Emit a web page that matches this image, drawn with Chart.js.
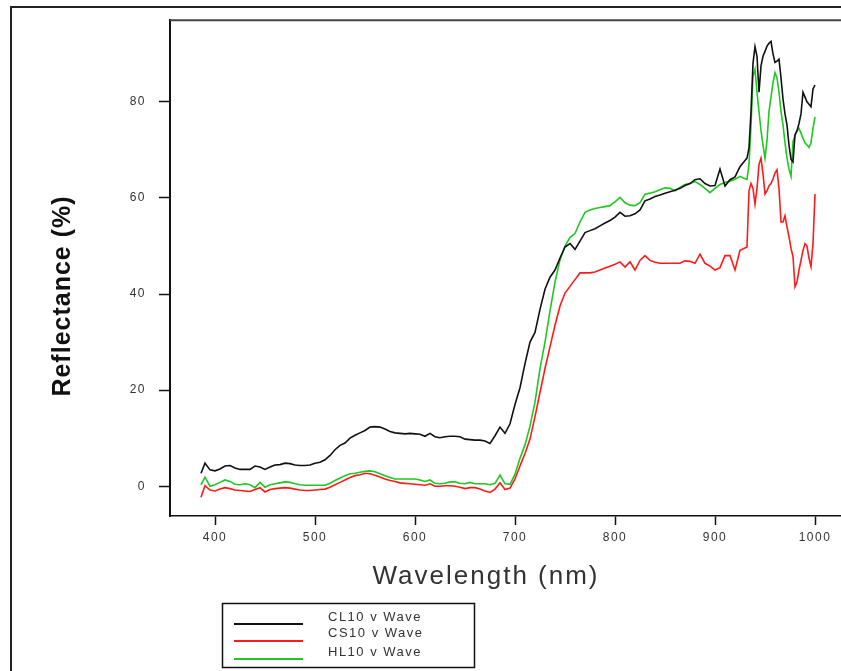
<!DOCTYPE html>
<html>
<head>
<meta charset="utf-8">
<script src="https://cdn.jsdelivr.net/npm/chart.js@4.4.1/dist/chart.umd.min.js"></script>
<style>
    html, body { margin: 0; padding: 0; background: #fff; overflow: hidden; }
    #wrap { width: 841px; height: 671px; overflow: hidden; position: relative; }
    canvas { display: block; }
</style>
</head>
<body>
<div id="wrap"><canvas id="reflChart" width="900" height="671"></canvas></div>
<script>
// Длины волн (нм), общие для всех трёх кривых
const wavelengths = [
    386, 390, 395, 400, 405, 410, 415, 420, 425, 430, 435, 440, 445, 450, 455, 460, 465, 470, 475, 480, 485, 490, 495, 500,
    505, 510, 515, 520, 525, 530, 535, 540, 545, 550, 555, 560, 565, 570, 575, 580, 585, 590, 595, 600,
    605, 610, 615, 620, 625, 630, 635, 640, 645, 650, 655, 660, 665, 670, 675, 680, 685, 690, 695,
    700, 705, 710, 715, 720, 725, 730, 735, 740, 745, 750, 755, 760, 765, 770, 775, 780, 785, 790, 795, 800,
    805, 810, 815, 820, 825, 830, 835, 840, 845, 850, 855, 860, 865, 870, 875, 880, 885, 890, 895, 900, 905, 910, 915, 920, 925, 930,
    932, 934, 936, 938, 940, 942, 944, 946, 948, 950, 952, 954, 956, 958, 960, 962, 964, 966, 968, 970, 972, 974, 976, 978, 980,
    982, 984, 986, 988, 990, 992, 994, 996, 998, 1000
];

const cl10 = [
    2.7, 4.8, 3.4, 3.2, 3.6, 4.2, 4.3, 3.8, 3.5, 3.5, 3.5, 4.2, 4.0, 3.5, 4.0, 4.4, 4.5, 4.8, 4.7, 4.4, 4.3, 4.3, 4.4, 4.8,
    5.0, 5.5, 6.4, 7.6, 8.5, 9.0, 10.0, 10.6, 11.1, 11.6, 12.3, 12.4, 12.3, 11.9, 11.4, 11.1, 11.0, 10.9, 11.0, 10.9,
    10.8, 10.4, 11.0, 10.3, 10.1, 10.3, 10.4, 10.4, 10.3, 9.8, 9.7, 9.6, 9.6, 9.4, 8.9, 10.5, 12.3, 11.0, 13.0,
    17.0, 20.5, 25.5, 30.0, 32.0, 36.8, 41.0, 43.5, 45.0, 47.5, 49.8, 50.5, 49.3, 51.0, 52.8, 53.2, 53.6, 54.2, 54.8, 55.3, 56.0,
    57.0, 56.2, 56.3, 56.7, 57.5, 59.4, 59.8, 60.3, 60.6, 61.0, 61.3, 61.6, 62.0, 62.6, 63.0, 63.8, 64.0, 63.0, 62.5, 62.6, 66.0, 62.5, 63.8, 64.4, 66.5, 67.8,
    68.3, 70.4, 78, 88, 91.5, 89.5, 82, 87.5, 89.5, 90.5, 91.6, 92.2, 92.6, 90, 88.2, 88.5, 88.9, 85, 80.6, 77.5, 75.2, 71, 68, 67.5, 73.1,
    74, 75.5, 77.5, 82, 81, 80, 79.5, 79, 82.7, 83.5
];

const cs10 = [
    -2.3, 0.1, -0.8, -1.0, -0.6, -0.3, -0.5, -0.8, -0.9, -1.0, -1.1, -0.7, -0.3, -1.2, -0.7, -0.5, -0.4, -0.3, -0.4, -0.6, -0.8, -0.9, -0.9, -0.8,
    -0.7, -0.6, -0.2, 0.3, 0.8, 1.3, 1.8, 2.2, 2.4, 2.7, 2.6, 2.3, 1.9, 1.5, 1.2, 1.0, 0.7, 0.6, 0.5, 0.4,
    0.3, 0.2, 0.5, 0.0, 0.0, 0.1, 0.1, 0.0, -0.2, -0.5, -0.3, -0.3, -0.6, -1.0, -1.3, -0.6, 0.7, -0.7, -0.4,
    1.5, 4.2, 6.8, 9.8, 14.5, 19.5, 24.5, 29.0, 33.5, 37.5, 40.2, 41.6, 43.0, 44.4, 44.4, 44.4, 44.6, 45.0, 45.4, 45.8, 46.2,
    46.7, 45.6, 46.7, 45.0, 47.0, 48.0, 47.0, 46.6, 46.4, 46.4, 46.4, 46.4, 46.4, 46.9, 46.8, 46.4, 48.3, 46.4, 45.8, 45.0, 45.5, 48.0, 48.0, 45.0, 49.1, 49.6,
    49.8, 61.5, 63, 62, 58.7, 62, 67, 68.3, 65, 60.8, 61.5, 62.5, 63, 64, 65.2, 65.9, 62, 55, 55, 56.3, 54, 51.9, 49.5, 47.8, 41.5,
    42.5, 45, 47, 49.1, 50.5, 50, 47.5, 45.7, 50.5, 60.8
];

const hl10 = [
    0.3, 1.9, 0.0, 0.3, 0.8, 1.3, 1.0, 0.4, 0.3, 0.5, 0.3, -0.3, 0.8, -0.2, 0.3, 0.5, 0.7, 0.9, 0.8, 0.5, 0.3, 0.2, 0.2, 0.2,
    0.2, 0.2, 0.6, 1.2, 1.7, 2.2, 2.6, 2.7, 2.9, 3.1, 3.2, 3.0, 2.6, 2.2, 1.8, 1.5, 1.5, 1.5, 1.5, 1.5,
    1.3, 1.0, 1.3, 0.6, 0.5, 0.6, 0.9, 0.9, 0.6, 0.5, 0.8, 0.5, 0.5, 0.5, 0.3, 0.6, 2.3, 0.5, 0.4,
    2.5, 5.8, 8.6, 12.5, 17.5, 24.5, 30.0, 36.5, 42.5, 47.1, 50.0, 51.8, 52.6, 55.0, 57.0, 57.5, 57.8, 58.0, 58.2, 58.4, 59.2,
    60.1, 59.0, 58.5, 58.4, 59.0, 60.8, 61.0, 61.3, 61.7, 62.1, 62.0, 61.5, 62.2, 62.8, 63.0, 63.4, 62.8, 62.0, 61.1, 62.0, 62.8, 63.2, 63.5, 63.9, 64.5, 64.0,
    63.9, 67, 75, 85.4, 86.8, 82, 78, 74, 71, 68.3, 72, 78, 81, 84, 86.1, 85, 82, 78, 75.2, 71.5, 68.3, 66, 64.5, 71.7, 73,
    74, 74.5, 73.5, 72.4, 71.5, 71, 70.5, 71.5, 74.5, 76.9
];

const seriesLabels = ['CL10 v Wave', 'CS10 v Wave', 'HL10 v Wave'];
const seriesColors = ['#111111', '#ff1a1a', '#1ec81e'];
const xTicks = [400, 500, 600, 700, 800, 900, 1000];
const yTicks = [0, 20, 40, 60, 80];

function toPoints(values) {
    return values.map((v, i) => ({ x: wavelengths[i], y: v }));
}

// рамки, подписи осей и легенда в стиле старого отчёта
const decorPlugin = {
    id: 'decor',
    beforeDraw(chart) {
        chart.ctx.letterSpacing = '1.5px';
    },
    afterDraw(chart) {
        const ctx = chart.ctx;
        const area = chart.chartArea;
        ctx.save();
        ctx.letterSpacing = '0px';

        // внешняя рамка
        ctx.strokeStyle = '#222';
        ctx.lineWidth = 2;
        ctx.beginPath();
        ctx.moveTo(11, 671);
        ctx.lineTo(11, 7);
        ctx.lineTo(900, 7);
        ctx.stroke();

        // верх области графика
        ctx.strokeStyle = '#444';
        ctx.beginPath();
        ctx.moveTo(area.left, area.top);
        ctx.lineTo(area.right, area.top);
        ctx.stroke();

        // подпись оси X
        ctx.fillStyle = '#333';
        ctx.font = '26px "Liberation Sans", Arial, sans-serif';
        ctx.letterSpacing = '2px';
        ctx.textAlign = 'center';
        ctx.textBaseline = 'middle';
        ctx.fillText('Wavelength (nm)', 486, 577);

        // подпись оси Y
        ctx.save();
        ctx.letterSpacing = '1px';
        ctx.translate(63, 296);
        ctx.rotate(-Math.PI / 2);
        ctx.fillStyle = '#111';
        ctx.font = 'bold 25px "Liberation Sans", Arial, sans-serif';
        ctx.fillText('Reflectance (%)', 0, 0);
        ctx.restore();

        // легенда
        ctx.letterSpacing = '0px';
        ctx.strokeStyle = '#111';
        ctx.lineWidth = 1.5;
        ctx.strokeRect(222.5, 603.5, 252, 64);
        const lineY = [624, 641, 659];
        const textY = [617, 633, 652];
        chart.data.datasets.forEach((ds, i) => {
            ctx.strokeStyle = ds.borderColor;
            ctx.lineWidth = 2;
            ctx.beginPath();
            ctx.moveTo(234, lineY[i]);
            ctx.lineTo(303, lineY[i]);
            ctx.stroke();
            ctx.fillStyle = '#333';
            ctx.font = '13px "Liberation Sans", Arial, sans-serif';
            ctx.letterSpacing = '1.5px';
            ctx.textAlign = 'left';
            ctx.textBaseline = 'middle';
            ctx.fillText(ds.label, 328, textY[i]);
            ctx.letterSpacing = '0px';
        });
        ctx.restore();
    }
};

const tickFont = { family: '"Liberation Sans", Arial, sans-serif', size: 12 };

new Chart(document.getElementById('reflChart'), {
    type: 'line',
    data: {
        datasets: [
            { label: seriesLabels[0], data: toPoints(cl10), borderColor: seriesColors[0] },
            { label: seriesLabels[1], data: toPoints(cs10), borderColor: seriesColors[1] },
            { label: seriesLabels[2], data: toPoints(hl10), borderColor: seriesColors[2] }
        ]
    },
    options: {
        responsive: false,
        animation: false,
        layout: { padding: { left: 0, top: 14, right: 30, bottom: 0 } },
        elements: {
            point: { radius: 0 },
            line: { borderWidth: 1.6, tension: 0, fill: false }
        },
        plugins: {
            legend: { display: false },
            tooltip: { enabled: false }
        },
        scales: {
            x: {
                type: 'linear',
                min: 355,
                max: 1055,
                afterFit(scale) { scale.height = 155; },
                afterBuildTicks(scale) { scale.ticks = xTicks.map(v => ({ value: v })); },
                grid: { drawOnChartArea: false, drawTicks: true, tickLength: 9, tickWidth: 1.5, tickColor: '#111' },
                border: { display: true, color: '#111', width: 1.5 },
                ticks: { color: '#333', font: tickFont, padding: 5, maxRotation: 0, autoSkip: false, callback: v => String(v) }
            },
            y: {
                min: -6.2,
                max: 97,
                afterFit(scale) { scale.width = 170; },
                afterBuildTicks(scale) { scale.ticks = yTicks.map(v => ({ value: v })); },
                grid: { drawOnChartArea: false, drawTicks: true, tickLength: 11, tickWidth: 1.5, tickColor: '#111' },
                border: { display: true, color: '#111', width: 2 },
                ticks: { color: '#333', font: tickFont, padding: 13, callback: v => String(v) }
            }
        }
    },
    plugins: [decorPlugin]
});
</script>
</body>
</html>
